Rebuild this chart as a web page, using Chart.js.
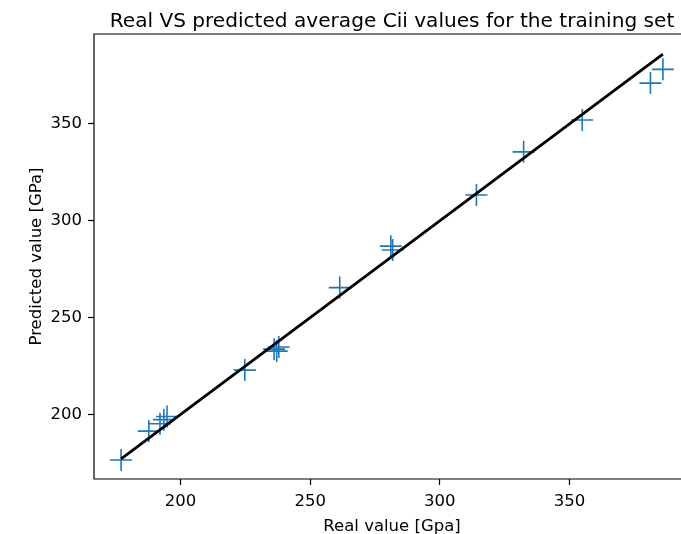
<!DOCTYPE html>
<html>
<head>
<meta charset="utf-8">
<script src="https://cdn.jsdelivr.net/npm/chart.js@4.4.1/dist/chart.umd.min.js"></script>
<style>
  html, body { margin: 0; padding: 0; background: #fff; overflow: hidden; }
  #c { display: block; }
</style>
</head>
<body>
<canvas id="c" width="681" height="534"></canvas>
<script>
// Data
const realValues = [177.1, 187.8, 192.1, 193.6, 194.8, 224.8, 236.1, 237.1, 237.9, 261.4, 281.1, 281.8, 314.1, 332.3, 354.9, 381.2, 386.0];
const predictedValues = [176.5, 191.4, 195.2, 197.3, 198.9, 222.9, 233.7, 232.7, 234.8, 265.5, 286.9, 284.9, 313.3, 335.6, 352.0, 371.1, 378.2];
const xTicks = [200, 250, 300, 350];
const yTicks = [200, 250, 300, 350];
const titleText = 'Real VS predicted average Cii values for the training set';
const xLabel = 'Real value [Gpa]';
const yLabel = 'Predicted value [GPa]';

const lo = Math.min(...realValues);
const hi = Math.max(...realValues);
const pad = (hi - lo) * 0.05;
const axisMin = lo - pad, axisMax = hi + pad;

// the reference's axes box extends past the right edge of the picture
const AX_LEFT = 94, AX_FULL_W = 596, CANVAS_W = 681;
const xVisibleMax = axisMin + (CANVAS_W - AX_LEFT) / AX_FULL_W * (axisMax - axisMin);

const points = realValues.map((v, i) => ({ x: v, y: predictedValues[i] }));
const idLine = [{ x: lo, y: lo }, { x: hi, y: hi }];

const FONT = 'DejaVu Sans';

const framePlugin = {
  id: 'frame',
  beforeDraw(chart) {
    const ctx = chart.ctx;
    ctx.save();
    ctx.fillStyle = '#fff';
    ctx.fillRect(0, 0, chart.width, chart.height);
    ctx.restore();
  },
  afterDraw(chart) {
    const { ctx, chartArea: a } = chart;
    ctx.save();
    ctx.strokeStyle = '#000';
    ctx.lineWidth = 1.2;
    ctx.beginPath();
    ctx.moveTo(a.right + 5, a.top);
    ctx.lineTo(a.left, a.top);
    ctx.lineTo(a.left, a.bottom);
    ctx.lineTo(a.right + 5, a.bottom);
    ctx.stroke();
    ctx.fillStyle = '#000';
    const cx = a.left + AX_FULL_W / 2;
    ctx.textAlign = 'center';
    ctx.textBaseline = 'alphabetic';
    ctx.font = '20.1px "' + FONT + '"';
    ctx.fillText(titleText, cx, 27);
    ctx.font = '16.5px "' + FONT + '"';
    ctx.fillText(xLabel, cx, 531);
    ctx.translate(41, (a.top + a.bottom) / 2);
    ctx.rotate(-Math.PI / 2);
    ctx.fillText(yLabel, 0, 0);
    ctx.restore();
  }
};

new Chart(document.getElementById('c'), {
  type: 'scatter',
  data: {
    datasets: [
      { type: 'line', data: idLine, borderColor: '#000', borderWidth: 2.8, pointRadius: 0, fill: false, order: 0 },
      { data: points, pointStyle: 'cross', pointRadius: 11, pointHoverRadius: 11, borderColor: '#1f77b4', backgroundColor: '#1f77b4', borderWidth: 1.6, order: 1 }
    ]
  },
  plugins: [framePlugin],
  options: {
    responsive: false,
    animation: false,
    events: [],
    layout: { autoPadding: false, padding: { top: 34, right: 0, left: 0, bottom: 0 } },
    plugins: { legend: { display: false }, tooltip: { enabled: false }, title: { display: false } },
    scales: {
      x: {
        type: 'linear', min: axisMin, max: xVisibleMax,
        afterBuildTicks: s => { s.ticks = xTicks.map(v => ({ value: v })); },
        afterFit: s => { s.height = 55; s.paddingLeft = 0; s.paddingRight = 0; },
        border: { display: false },
        grid: { drawOnChartArea: false, drawTicks: true, tickLength: 6, tickColor: '#000', tickWidth: 1.2 },
        ticks: { color: '#000', font: { family: FONT, size: 16.5 }, padding: 7, maxRotation: 0, autoSkip: false }
      },
      y: {
        type: 'linear', min: axisMin, max: axisMax,
        afterBuildTicks: s => { s.ticks = yTicks.map(v => ({ value: v })); },
        afterFit: s => { s.width = AX_LEFT; s.paddingTop = 0; s.paddingBottom = 0; },
        border: { display: false },
        grid: { drawOnChartArea: false, drawTicks: true, tickLength: 6, tickColor: '#000', tickWidth: 1.2 },
        ticks: { color: '#000', font: { family: FONT, size: 16.5 }, padding: 6, autoSkip: false }
      }
    }
  }
});
</script>
</body>
</html>
